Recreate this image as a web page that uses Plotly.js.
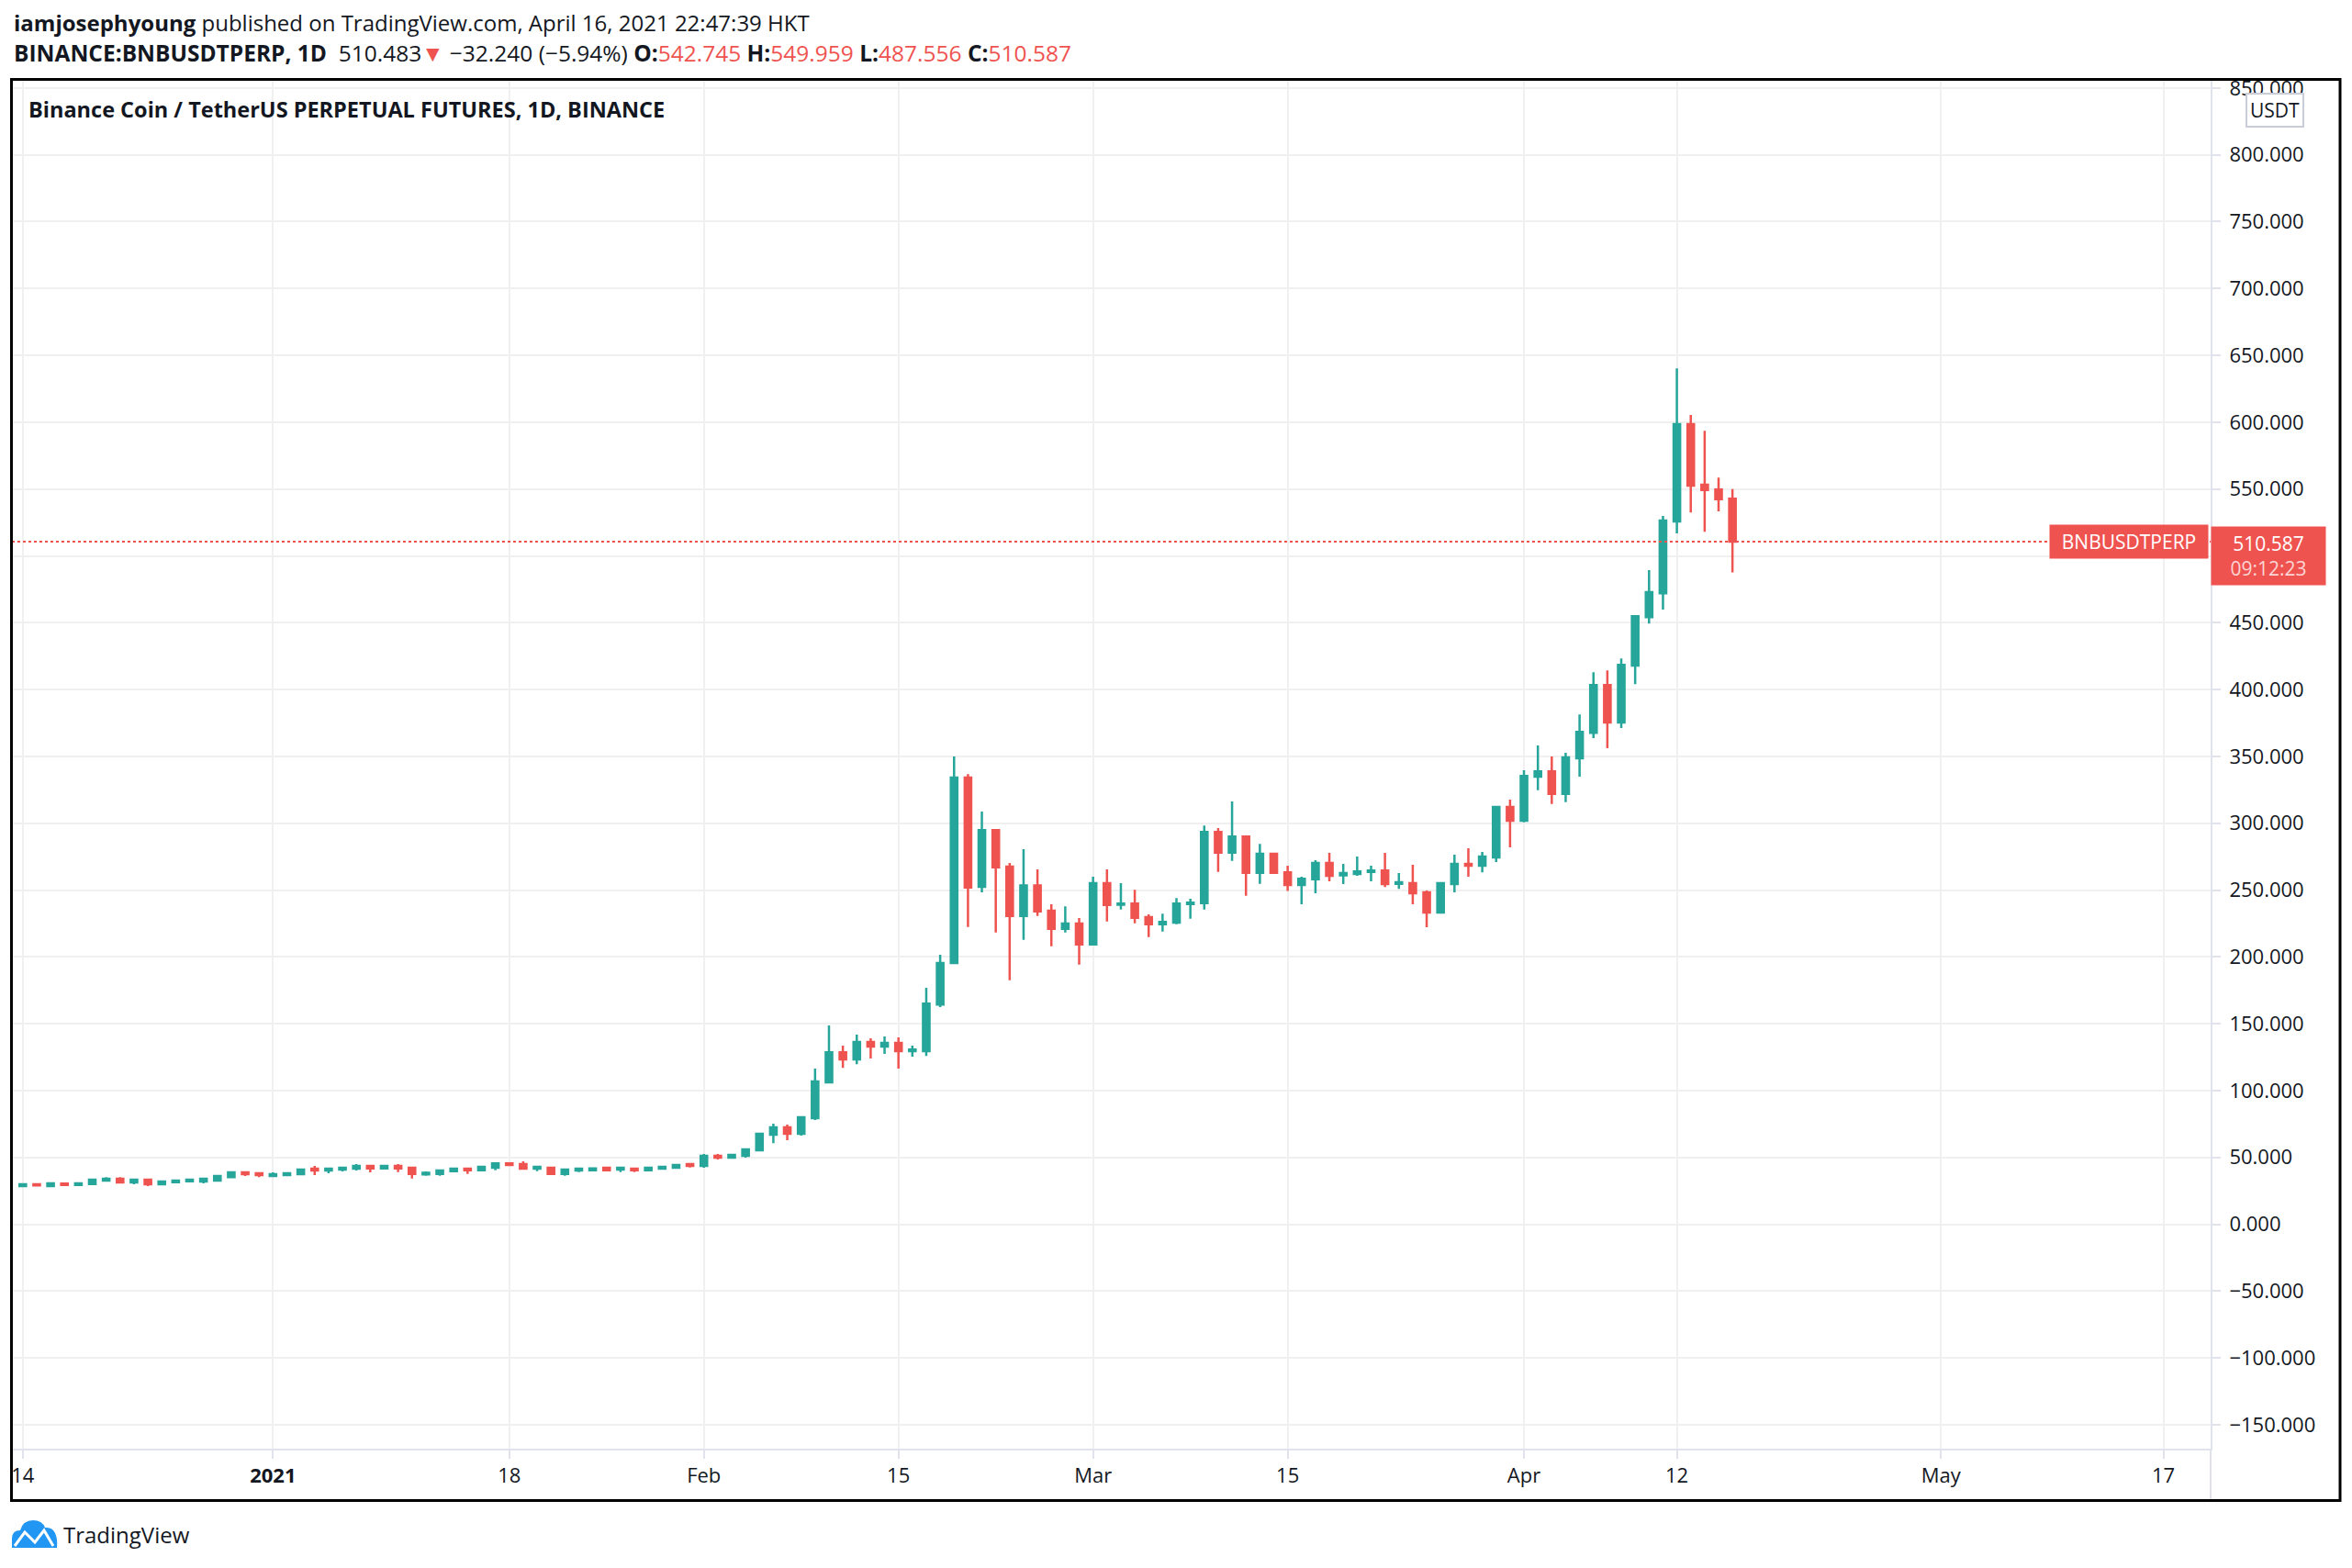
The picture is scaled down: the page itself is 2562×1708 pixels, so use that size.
<!DOCTYPE html>
<html>
<head>
<meta charset="utf-8">
<script src="https://cdn.plot.ly/plotly-3.0.1.min.js"></script>
<style>
  html, body { margin: 0; padding: 0; background: #ffffff; }
  #chart { width: 2562px; height: 1708px; }
</style>
</head>
<body>
<div id="chart"></div>
<script>
// ---------- DATA (daily candles, BNBUSDTPERP, Binance) ----------
const dates = [
  '2020-12-14','2020-12-15','2020-12-16','2020-12-17','2020-12-18','2020-12-19','2020-12-20','2020-12-21','2020-12-22','2020-12-23',
  '2020-12-24','2020-12-25','2020-12-26','2020-12-27','2020-12-28','2020-12-29','2020-12-30','2020-12-31',
  '2021-01-01','2021-01-02','2021-01-03','2021-01-04','2021-01-05','2021-01-06','2021-01-07','2021-01-08','2021-01-09','2021-01-10',
  '2021-01-11','2021-01-12','2021-01-13','2021-01-14','2021-01-15','2021-01-16','2021-01-17','2021-01-18','2021-01-19','2021-01-20',
  '2021-01-21','2021-01-22','2021-01-23','2021-01-24','2021-01-25','2021-01-26','2021-01-27','2021-01-28','2021-01-29','2021-01-30','2021-01-31',
  '2021-02-01','2021-02-02','2021-02-03','2021-02-04','2021-02-05','2021-02-06','2021-02-07','2021-02-08','2021-02-09','2021-02-10',
  '2021-02-11','2021-02-12','2021-02-13','2021-02-14','2021-02-15','2021-02-16','2021-02-17','2021-02-18','2021-02-19','2021-02-20',
  '2021-02-21','2021-02-22','2021-02-23','2021-02-24','2021-02-25','2021-02-26','2021-02-27','2021-02-28',
  '2021-03-01','2021-03-02','2021-03-03','2021-03-04','2021-03-05','2021-03-06','2021-03-07','2021-03-08','2021-03-09','2021-03-10',
  '2021-03-11','2021-03-12','2021-03-13','2021-03-14','2021-03-15','2021-03-16','2021-03-17','2021-03-18','2021-03-19','2021-03-20',
  '2021-03-21','2021-03-22','2021-03-23','2021-03-24','2021-03-25','2021-03-26','2021-03-27','2021-03-28','2021-03-29','2021-03-30','2021-03-31',
  '2021-04-01','2021-04-02','2021-04-03','2021-04-04','2021-04-05','2021-04-06','2021-04-07','2021-04-08','2021-04-09','2021-04-10',
  '2021-04-11','2021-04-12','2021-04-13','2021-04-14','2021-04-15','2021-04-16'
];

const openPrices = [
  // Dec
  28.6,29.9,28.6,30.4,29.3,30.0,32.7,34.0,31.2,33.3,29.9,31.5,32.1,31.9,32.6,35.3,38.8,38.1,
  // Jan
  36.0,36.7,37.4,41.5,40.2,40.8,41.5,43.6,41.7,43.6,42.2,37.2,37.6,39.7,41.5,40.4,42.2,45.6,45.0,41.5,
  42.2,37.6,40.2,40.4,42.2,40.8,41.5,40.4,41.5,42.2,45.0,
  // Feb
  43.6,51.1,49.8,51.1,55.3,66.9,72.4,67.6,79.3,106.1,128.7,123.3,136.3,132.9,135.6,129.4,129.4,164.4,195.4,334.1,
  252.4,294.9,267.5,230.6,253.5,234.5,221.0,224.9,
  // Mar
  209.3,255.1,239.0,239.9,229.7,224.4,225.7,239.5,240.2,293.5,278.0,290.1,262.9,277.1,263.3,253.8,258.1,270.2,261.0,262.0,
  263.5,264.6,254.6,255.1,248.3,233.2,254.4,269.5,268.2,274.4,312.1,
  // Apr
  301.8,334.9,338.8,321.9,348.6,367.6,403.4,375.3,417.9,454.2,472.1,525.7,598.5,553.2,549.7,542.745
];

const highPrices = [
  30.2,30.0,30.6,31.2,31.2,34.0,35.3,35.3,33.4,34.0,32.6,33.3,34.0,34.9,36.1,39.5,38.9,38.2,
  38.8,38.8,41.5,43.6,41.6,42.3,45.0,43.7,44.3,45.0,42.3,39.5,40.3,41.6,42.2,43.6,46.3,46.3,47.0,43.0,
  42.3,40.9,41.6,42.2,42.9,42.3,41.6,42.9,43.6,45.0,45.6,
  52.5,52.5,52.5,56.7,68.3,75.2,74.5,80.1,116.4,148.7,133.6,141.8,139.1,140.5,139.8,133.6,176.8,201.6,349.9,336.8,
  308.7,295.6,270.2,280.5,265.4,239.3,237.9,229.0,
  259.9,265.4,255.1,250.2,231.8,232.4,244.0,243.4,298.3,296.3,316.2,290.8,284.6,277.8,268.2,259.9,272.3,277.8,269.5,275.0,
  268.2,277.8,262.7,268.9,249.6,255.2,276.4,281.2,278.5,312.8,317.6,
  339.6,358.1,349.9,352.6,381.4,413.0,414.4,423.3,455.0,489.3,529.8,640.3,605.4,593.6,558.6,549.959
];

const lowPrices = [
  28.2,29.0,28.1,28.5,28.5,29.8,31.7,30.5,29.9,28.5,29.4,30.8,31.9,30.5,32.5,34.7,36.0,35.3,
  36.0,36.0,36.7,36.7,38.1,39.5,40.2,38.8,41.0,39.0,34.2,36.3,36.3,39.0,37.6,39.7,40.4,43.6,40.8,39.7,
  37.5,36.3,39.0,39.7,39.7,39.0,39.0,39.7,40.8,41.5,42.4,
  42.2,48.4,49.1,49.8,55.2,60.7,62.9,66.3,77.9,106.0,117.0,119.7,123.9,127.4,116.4,125.4,125.9,162.4,194.7,222.3,
  248.3,218.3,182.5,212.8,230.6,208.0,218.3,194.2,
  208.6,226.5,235.4,225.1,214.8,219.0,224.4,228.6,235.4,263.6,271.8,245.7,254.7,262.2,249.3,239.4,247.6,256.5,254.4,260.6,
  256.5,252.3,250.8,239.3,222.2,233.1,248.3,259.9,263.3,270.9,281.9,
  300.6,324.7,314.4,315.8,334.9,363.6,356.1,371.2,404.1,449.4,459.8,516.8,532.5,518.1,533.3,487.556
];

const closePrices = [
  29.9,29.1,30.5,29.3,30.5,33.3,34.0,31.2,33.3,29.9,31.9,32.6,33.3,34.0,36.0,38.8,37.4,36.7,
  37.4,38.1,40.8,40.2,41.5,42.2,43.6,41.7,43.6,41.8,37.6,38.5,40.2,41.5,40.4,42.9,45.6,44.3,41.5,42.9,
  37.6,40.8,41.5,41.8,40.4,42.2,40.4,42.2,42.9,44.3,43.6,
  51.1,49.8,51.8,56.0,67.6,72.4,67.6,80.0,106.8,128.7,123.3,136.3,132.9,135.6,129.4,130.6,165.1,195.4,334.1,251.9,
  294.9,267.0,230.6,253.5,234.0,221.0,224.9,209.3,
  255.1,238.8,239.9,229.2,224.4,226.2,239.9,240.6,293.5,278.0,290.1,262.9,277.1,262.9,253.8,258.5,270.2,260.6,262.7,264.0,
  264.6,254.4,255.8,247.6,233.2,255.1,269.5,268.2,275.0,312.1,301.8,
  335.4,338.8,321.9,349.2,368.3,403.4,375.3,418.5,454.9,472.8,526.4,598.5,552.5,549.2,542.4,510.587
];

// tick labels
const xTickVals = ['2020-12-14','2021-01-01','2021-01-18','2021-02-01','2021-02-15','2021-03-01',
                   '2021-03-15','2021-04-01','2021-04-12','2021-05-01','2021-05-17'];
const xTickText = ['14','<b>2021</b>','18','Feb','15','Mar','15','Apr','12','May','17'];

const yTickVals = [-150, -100, -50, 0, 50, 100, 150, 200, 250, 300, 350, 400, 450, 500, 550, 600, 650, 700, 750, 800, 850];
// the 500.000 label is covered by the last-price label in the reference
const yTickText = ['\u2212150.000', '\u2212100.000', '\u221250.000', '0.000', '50.000', '100.000', '150.000', '200.000',
                   '250.000', '300.000', '350.000', '400.000', '450.000', '', '550.000', '600.000', '650.000',
                   '700.000', '750.000', '800.000', '850.000'];

// header texts
const author = 'iamjosephyoung';
const publishedText = 'published on TradingView.com, April 16, 2021 22:47:39 HKT';
const symbolText = 'BINANCE:BNBUSDTPERP, 1D';
const lastPriceText = '510.483';
const changeText = '\u221232.240 (\u22125.94%)';
const chartTitle = 'Binance Coin / TetherUS PERPETUAL FUTURES, 1D, BINANCE';
const currency = 'USDT';
const symbolLabel = 'BNBUSDTPERP';
const countdown = '09:12:23';

// ---------- STYLE / LAYOUT ----------
const UP = '#26a69a', DOWN = '#ef5350', TXT = '#131722';
const GRID = '#f0f0f0', SEP = '#e0e3eb';
const FONT = "'Open Sans', 'Noto Sans', sans-serif";

const W = 2562, H = 1708;
const PL = 13, PR = 2408, PT = 87, PB = 1578;     // plot area in pixels
const pw = PR - PL, ph = PB - PT;
const px = x => (x - PL) / pw;                    // pixel -> paper x
const py = y => (PB - y) / ph;                    // pixel -> paper y

const DAY = 86400000;
const feb1 = Date.UTC(2021, 1, 1);
const fmt = ms => new Date(ms).toISOString().slice(0, 19).replace('T', ' ');
const xRange = [fmt(feb1 - 49.78 * DAY), fmt(feb1 + 108.4 * DAY)];

const n = closePrices.length;
const lastO = openPrices[n - 1], lastH = highPrices[n - 1], lastL = lowPrices[n - 1], lastC = closePrices[n - 1];
const red = s => '<span style="color:' + DOWN + '">' + s + '</span>';

const trace = {
  type: 'candlestick',
  x: dates, open: openPrices, high: highPrices, low: lowPrices, close: closePrices,
  increasing: { line: { color: UP, width: 2.5 }, fillcolor: UP },
  decreasing: { line: { color: DOWN, width: 2.5 }, fillcolor: DOWN },
  whiskerwidth: 0,
  hoverinfo: 'none',
  showlegend: false
};

// TradingView logo (cloud) path, pixel coords converted to paper coords
const P = (x, y) => px(x).toFixed(5) + ',' + py(y).toFixed(5);
const cloud = 'M' + P(13, 1686) + ' L' + P(13, 1676) +
  ' Q' + P(13, 1667) + ' ' + P(22, 1667) +
  ' Q' + P(25, 1656) + ' ' + P(36, 1656) +
  ' Q' + P(46, 1656) + ' ' + P(49, 1664) +
  ' Q' + P(57, 1663) + ' ' + P(60, 1670) +
  ' Q' + P(63, 1676) + ' ' + P(62, 1686) + ' Z';
const zig = 'M' + P(16, 1684) + ' L' + P(27, 1669) + ' L' + P(38, 1680) +
  ' L' + P(48, 1667) + ' L' + P(58, 1684);

const layout = {
  width: W, height: H,
  margin: { l: PL, r: W - PR, t: PT, b: H - PB, pad: 0 },
  paper_bgcolor: '#ffffff', plot_bgcolor: '#ffffff',
  font: { family: FONT, size: 21, color: TXT },
  showlegend: false,
  boxgap: 0.33,
  dragmode: false,
  xaxis: {
    type: 'date', range: xRange, rangeslider: { visible: false },
    tickmode: 'array', tickvals: xTickVals, ticktext: xTickText,
    showgrid: true, gridcolor: GRID, gridwidth: 2, zeroline: false,
    ticks: 'outside', ticklen: 9, tickwidth: 2, tickcolor: SEP,
    showline: true, linecolor: SEP, linewidth: 2,
    tickfont: { family: FONT, size: 22, color: TXT },
    fixedrange: true
  },
  yaxis: {
    side: 'right', range: [-167.9, 856.1],
    tickmode: 'array', tickvals: yTickVals, ticktext: yTickText,
    showgrid: true, gridcolor: GRID, gridwidth: 2, zeroline: false,
    ticks: 'outside', ticklen: 9, tickwidth: 2, tickcolor: SEP,
    showline: true, linecolor: SEP, linewidth: 2,
    tickfont: { family: FONT, size: 22, color: TXT },
    ticklabelstandoff: 5,
    fixedrange: true
  },
  shapes: [
    // dotted last-price line
    { type: 'line', xref: 'paper', yref: 'y', x0: 0, x1: 1, y0: lastC, y1: lastC,
      line: { color: DOWN, width: 2, dash: 'dot' }, layer: 'above' },
    // separator continuation into time-axis strip
    { type: 'line', xref: 'paper', yref: 'paper', x0: 1, x1: 1, y0: py(1634), y1: 0,
      line: { color: SEP, width: 2 } },
    // outer black frame
    { type: 'rect', xref: 'paper', yref: 'paper', x0: px(12.5), x1: px(2549), y0: py(1634.5), y1: py(86.5),
      line: { color: '#000000', width: 3 }, fillcolor: 'rgba(0,0,0,0)', layer: 'above' },
    // logo
    { type: 'path', xref: 'paper', yref: 'paper', path: cloud, fillcolor: '#2196f3', line: { width: 0 } },
    { type: 'path', xref: 'paper', yref: 'paper', path: zig, line: { color: '#ffffff', width: 3 } }
  ],
  annotations: [
    { xref: 'paper', yref: 'paper', x: px(13), y: py(24), xanchor: 'left', yanchor: 'middle', showarrow: false,
      text: '<b>' + author + '</b> ' + publishedText, font: { family: FONT, size: 24, color: TXT } },
    { xref: 'paper', yref: 'paper', x: px(13), y: py(57), xanchor: 'left', yanchor: 'middle', showarrow: false,
      text: '<b>' + symbolText + '</b>  ' + lastPriceText + red('\u25BC') + ' ' + changeText + ' ' +
            '<b>O:</b>' + red(lastO.toFixed(3)) + ' <b>H:</b>' + red(lastH.toFixed(3)) +
            ' <b>L:</b>' + red(lastL.toFixed(3)) + ' <b>C:</b>' + red(lastC.toFixed(3)),
      font: { family: FONT, size: 24.5, color: TXT } },
    { xref: 'paper', yref: 'paper', x: px(29), y: py(119), xanchor: 'left', yanchor: 'middle', showarrow: false,
      text: '<b>' + chartTitle + '</b>', font: { family: FONT, size: 23.5, color: TXT } },
    { xref: 'paper', yref: 'paper', x: px(2478), y: py(119.5), xanchor: 'center', yanchor: 'middle', showarrow: false,
      text: currency, font: { family: FONT, size: 21, color: TXT },
      bgcolor: '#ffffff', bordercolor: '#c9cdd8', borderwidth: 2, borderpad: 3 },
    { xref: 'paper', yref: 'y', x: 1, y: lastC, xanchor: 'right', yanchor: 'middle', xshift: -2, showarrow: false,
      text: symbolLabel, font: { family: FONT, size: 21, color: '#ffffff' },
      bgcolor: DOWN, borderpad: 4, width: 164 },
    { xref: 'paper', yref: 'y', x: 1, y: lastC, xanchor: 'left', yanchor: 'top', yshift: 17, showarrow: false,
      text: lastC.toFixed(3) + '<br><span style="color:#fcd5d4">' + countdown + '</span>',
      align: 'center', font: { family: FONT, size: 21, color: '#ffffff' },
      bgcolor: DOWN, borderpad: 4, width: 116 },
    { xref: 'paper', yref: 'paper', x: px(67), y: py(1671), xanchor: 'left', yanchor: 'middle', showarrow: false,
      text: 'TradingView', font: { family: FONT, size: 24, color: TXT } }
  ]
};

Plotly.newPlot('chart', [trace], layout, { staticPlot: true, displayModeBar: false });
</script>
</body>
</html>
